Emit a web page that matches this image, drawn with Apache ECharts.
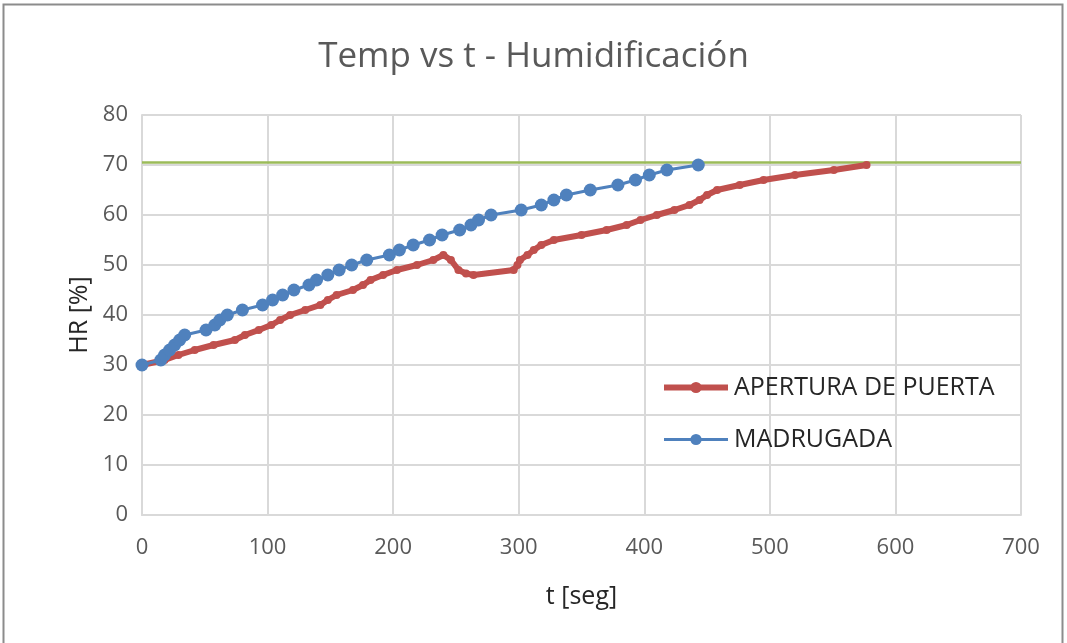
<!DOCTYPE html>
<html>
<head>
<meta charset="utf-8">
<script src="https://cdn.jsdelivr.net/npm/echarts@6/dist/echarts.min.js"></script>
<style>
  html, body { margin: 0; padding: 0; background: #ffffff; }
  #chart { width: 1067px; height: 643px; }
</style>
</head>
<body>
<div id="chart"></div>
<script>
// Humidification runs: time (s) and relative humidity (%)
const puertaT  = [0, 18, 29, 42, 57, 74, 82, 93, 103, 110, 118, 130, 142, 148, 155, 168, 176, 182, 192, 203, 219, 232, 240, 246, 252, 258, 264, 296, 299, 301, 307, 312, 318, 328, 350, 370, 386, 397, 410, 424, 436, 444, 450, 458, 476, 495, 520, 551, 577];
const puertaHR = [30, 31, 32, 33, 34, 35, 36, 37, 38, 39, 40, 41, 42, 43, 44, 45, 46, 47, 48, 49, 50, 51, 52, 51, 49, 48.3, 48, 49, 50, 51, 52, 53, 54, 55, 56, 57, 58, 59, 60, 61, 62, 63, 64, 65, 66, 67, 68, 69, 70];

const madrugadaT  = [0, 15, 18, 22, 26, 30, 34, 51, 58, 62, 68, 80, 96, 104, 112, 121, 133, 139, 148, 157, 167, 179, 197, 205, 216, 229, 239, 253, 262, 268, 278, 302, 318, 328, 338, 357, 379, 393, 404, 418, 443];
const madrugadaHR = [30, 31, 32, 33, 34, 35, 36, 37, 38, 39, 40, 41, 42, 43, 44, 45, 46, 47, 48, 49, 50, 51, 52, 53, 54, 55, 56, 57, 58, 59, 60, 61, 62, 63, 64, 65, 66, 67, 68, 69, 70];

// Target humidity reference level
const hrLimit = 70.5;

const seriesNames = ['APERTURA DE PUERTA', 'MADRUGADA'];
const titleText = 'Temp vs t - Humidificación';
const xName = 't [seg]';
const yName = 'HR [%]';

const pair = (xs, ys) => xs.map((x, i) => [x, ys[i]]);

const chart = echarts.init(document.getElementById('chart'), null, { renderer: 'canvas' });
const font = 'Open Sans, Liberation Sans, sans-serif';
const labelColor = '#595959';
const gridColor = '#d9d9d9';
const red = '#c0504d';
const blue = '#4f81bd';

chart.setOption({
  backgroundColor: '#ffffff',
  animation: false,
  graphic: [{
    type: 'rect',
    shape: { x: 3.5, y: 4.5, width: 1059, height: 700 },
    style: { fill: 'none', stroke: '#8c8c8c', lineWidth: 2 },
    silent: true
  }],
  title: {
    text: titleText,
    left: 'center',
    top: 35,
    textStyle: { fontFamily: font, fontSize: 35, fontWeight: 'normal', color: labelColor }
  },
  legend: {
    orient: 'vertical',
    left: 656,
    top: 370,
    itemWidth: 64,
    itemHeight: 14,
    itemGap: 27,
    data: [
      { name: seriesNames[0], lineStyle: { width: 6, color: red } },
      { name: seriesNames[1], lineStyle: { width: 3, color: blue } }
    ],
    textStyle: { fontFamily: font, fontSize: 25, color: '#262626', padding: [0, 0, 0, 1] }
  },
  grid: { left: 142, right: 46, top: 115, bottom: 128, containLabel: false },
  xAxis: {
    type: 'value',
    min: 0, max: 700, interval: 100,
    name: xName,
    nameLocation: 'middle',
    nameGap: 69,
    nameTextStyle: { fontFamily: font, fontSize: 25, color: '#262626' },
    axisLine: { show: true, lineStyle: { color: gridColor, width: 2 } },
    axisTick: { show: false },
    axisLabel: { fontFamily: font, fontSize: 22, color: labelColor, margin: 22 },
    splitLine: { show: true, lineStyle: { color: gridColor, width: 2 } }
  },
  yAxis: {
    type: 'value',
    min: 0, max: 80, interval: 10,
    name: yName,
    nameLocation: 'middle',
    nameGap: 37,
    nameTextStyle: { fontFamily: font, fontSize: 25, color: '#262626' },
    axisLine: { show: true, lineStyle: { color: gridColor, width: 2 } },
    axisTick: { show: false },
    axisLabel: { fontFamily: font, fontSize: 22, color: labelColor, margin: 14 },
    splitLine: { show: true, lineStyle: { color: gridColor, width: 2 } }
  },
  series: [
    {
      name: seriesNames[0],
      type: 'line',
      data: pair(puertaT, puertaHR),
      symbol: 'circle',
      symbolSize: 8,
      showAllSymbol: true,
      lineStyle: { color: red, width: 6 },
      itemStyle: { color: red },
      z: 3
    },
    {
      name: seriesNames[1],
      type: 'line',
      data: pair(madrugadaT, madrugadaHR),
      symbol: 'circle',
      symbolSize: 13,
      showAllSymbol: true,
      lineStyle: { color: blue, width: 3 },
      itemStyle: { color: blue },
      z: 4,
      markLine: {
        silent: true,
        symbol: 'none',
        label: { show: false },
        lineStyle: { color: '#9bbb59', width: 2.5, type: 'solid' },
        data: [{ yAxis: hrLimit }],
        z: 2
      }
    }
  ]
});
</script>
</body>
</html>
